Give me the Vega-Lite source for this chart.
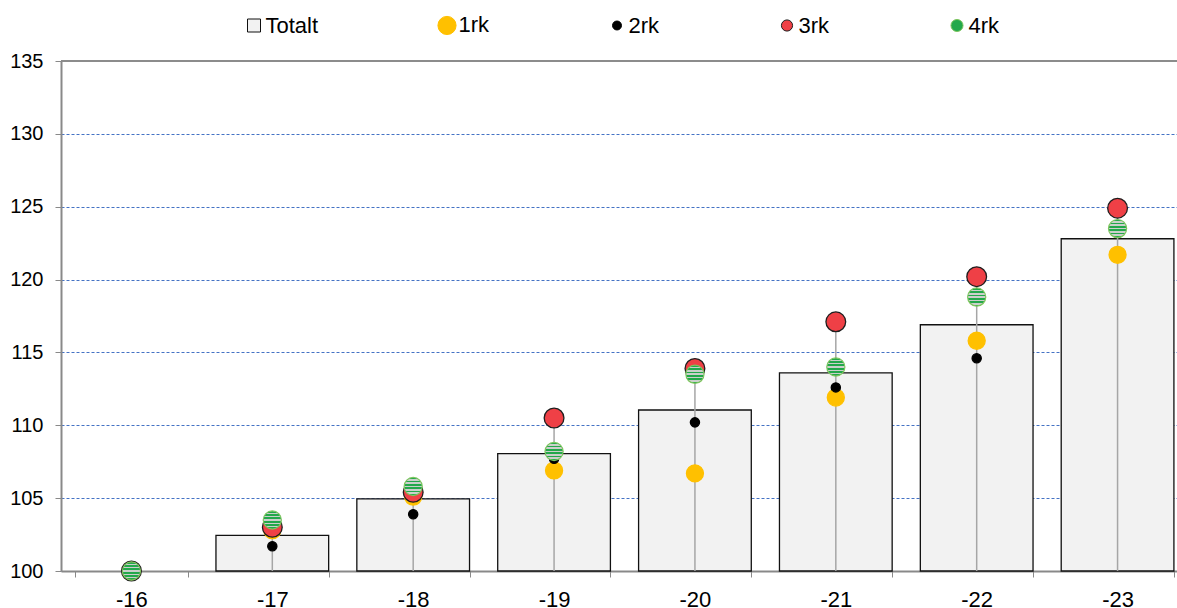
{
  "$schema": "https://vega.github.io/schema/vega-lite/v6.json",
  "autosize": {"type": "none"},
  "padding": {"left": 61, "top": 61, "right": 0, "bottom": 37},
  "width": 1116,
  "height": 510,
  "background": "#ffffff",
  "config": {
    "view": {"stroke": null},
    "font": "Liberation Sans",
    "axis": {"labelFont": "Liberation Sans", "labelColor": "#000000", "title": null}
  },
  "datasets": {
    "indeks": [
      {"aar": "-16", "serie": "Totalt", "verdi": 100},
      {"aar": "-17", "serie": "Totalt", "verdi": 102.45},
      {"aar": "-18", "serie": "Totalt", "verdi": 104.95},
      {"aar": "-19", "serie": "Totalt", "verdi": 108.05},
      {"aar": "-20", "serie": "Totalt", "verdi": 111.05},
      {"aar": "-21", "serie": "Totalt", "verdi": 113.6},
      {"aar": "-22", "serie": "Totalt", "verdi": 116.9},
      {"aar": "-23", "serie": "Totalt", "verdi": 122.8},
      {"aar": "-16", "serie": "1rk", "verdi": 100},
      {"aar": "-17", "serie": "1rk", "verdi": 102.8},
      {"aar": "-18", "serie": "1rk", "verdi": 105.1},
      {"aar": "-19", "serie": "1rk", "verdi": 106.9},
      {"aar": "-20", "serie": "1rk", "verdi": 106.7},
      {"aar": "-21", "serie": "1rk", "verdi": 111.9},
      {"aar": "-22", "serie": "1rk", "verdi": 115.8},
      {"aar": "-23", "serie": "1rk", "verdi": 121.7},
      {"aar": "-16", "serie": "2rk", "verdi": 100},
      {"aar": "-17", "serie": "2rk", "verdi": 101.7},
      {"aar": "-18", "serie": "2rk", "verdi": 103.9},
      {"aar": "-19", "serie": "2rk", "verdi": 107.7},
      {"aar": "-20", "serie": "2rk", "verdi": 110.2},
      {"aar": "-21", "serie": "2rk", "verdi": 112.6},
      {"aar": "-22", "serie": "2rk", "verdi": 114.6},
      {"aar": "-23", "serie": "2rk", "verdi": 123.4},
      {"aar": "-16", "serie": "3rk", "verdi": 100},
      {"aar": "-17", "serie": "3rk", "verdi": 103.0},
      {"aar": "-18", "serie": "3rk", "verdi": 105.4},
      {"aar": "-19", "serie": "3rk", "verdi": 110.5},
      {"aar": "-20", "serie": "3rk", "verdi": 113.9},
      {"aar": "-21", "serie": "3rk", "verdi": 117.1},
      {"aar": "-22", "serie": "3rk", "verdi": 120.2},
      {"aar": "-23", "serie": "3rk", "verdi": 124.9},
      {"aar": "-16", "serie": "4rk", "verdi": 100},
      {"aar": "-17", "serie": "4rk", "verdi": 103.5},
      {"aar": "-18", "serie": "4rk", "verdi": 105.8},
      {"aar": "-19", "serie": "4rk", "verdi": 108.2},
      {"aar": "-20", "serie": "4rk", "verdi": 113.5},
      {"aar": "-21", "serie": "4rk", "verdi": 114.0},
      {"aar": "-22", "serie": "4rk", "verdi": 118.8},
      {"aar": "-23", "serie": "4rk", "verdi": 123.5}
    ]
  },
  "data": {"name": "indeks"},
  "layer": [
    {
      "transform": [{"filter": "datum.serie === 'Totalt'"}],
      "mark": {"type": "bar", "stroke": "#111111", "strokeWidth": 1.3},
      "encoding": {
        "x": {
          "field": "aar",
          "type": "ordinal",
          "sort": ["-16", "-17", "-18", "-19", "-20", "-21", "-22", "-23"],
          "scale": {"range": [0, 1127], "paddingInner": 0.2, "paddingOuter": 0.1},
          "axis": {
            "labelAngle": 0,
            "labelFontSize": 22,
            "domainColor": "#898989",
            "domainWidth": 2,
            "tickColor": "#898989",
            "tickWidth": 1,
            "tickSize": 6,
            "tickBand": "extent",
            "labelPadding": 12
          }
        },
        "y": {
          "field": "verdi",
          "type": "quantitative",
          "scale": {"domain": [100, 135], "zero": false, "nice": false},
          "axis": {
            "values": [100, 105, 110, 115, 120, 125, 130, 135],
            "labelFontSize": 20,
            "domainColor": "#898989",
            "domainWidth": 2,
            "tickColor": "#898989",
            "tickWidth": 1,
            "tickSize": 6,
            "labelPadding": 12,
            "grid": true,
            "gridColor": "#4472C4",
            "gridDash": [3, 2],
            "gridWidth": 1
          }
        },
        "y2": {"datum": 100},
        "strokeOpacity": {"condition": {"test": "datum.verdi <= 100", "value": 0}, "value": 1},
        "color": {
          "field": "serie",
          "type": "nominal",
          "scale": {
            "domain": ["Totalt", "1rk", "2rk", "3rk", "4rk"],
            "range": ["#F2F2F2", "#FFC000", "#000000", "#EF4046", "#23A84B"]
          }
        }
      }
    },
    {
      "transform": [{"filter": "datum.serie !== 'Totalt'"}],
      "mark": {"type": "rule", "color": "#A6A6A6", "strokeWidth": 1.5},
      "encoding": {
        "x": {"field": "aar", "type": "ordinal", "sort": ["-16", "-17", "-18", "-19", "-20", "-21", "-22", "-23"]},
        "y": {"aggregate": "max", "field": "verdi", "type": "quantitative"},
        "y2": {"datum": 100}
      }
    },
    {
      "data": {"values": [{"ramme": "topp"}]},
      "mark": {"type": "rule", "color": "#8C8C8C", "strokeWidth": 2},
      "encoding": {"y": {"datum": 135}}
    },
    {
      "transform": [{"filter": "datum.serie !== 'Totalt' && datum.serie !== '4rk'"}],
      "mark": {"type": "point", "shape": "circle", "filled": true, "opacity": 1, "strokeWidth": 1.3},
      "encoding": {
        "x": {"field": "aar", "type": "ordinal", "sort": ["-16", "-17", "-18", "-19", "-20", "-21", "-22", "-23"]},
        "y": {"field": "verdi", "type": "quantitative"},
        "color": {"field": "serie", "type": "nominal"},
        "stroke": {"field": "serie", "type": "nominal"},
        "size": {
          "condition": [
            {"test": "datum.serie === '1rk'", "value": 290},
            {"test": "datum.serie === '2rk'", "value": 85}
          ],
          "value": 390
        }
      }
    },
    {
      "transform": [{"filter": "datum.serie === '4rk'"}],
      "mark": {
        "type": "point",
        "shape": "circle",
        "filled": true,
        "opacity": 1,
        "size": 330,
        "stroke": "#7DC55E",
        "strokeWidth": 1.2,
        "fill": {
          "gradient": "linear",
          "x1": 0, "y1": 0, "x2": 0, "y2": 1,
          "stops": [
            {"offset": 0, "color": "#23A84B"},
            {"offset": 0.09, "color": "#23A84B"},
            {"offset": 0.09, "color": "#CBCFCB"},
            {"offset": 0.18, "color": "#CBCFCB"},
            {"offset": 0.18, "color": "#23A84B"},
            {"offset": 0.27, "color": "#23A84B"},
            {"offset": 0.27, "color": "#CBCFCB"},
            {"offset": 0.36, "color": "#CBCFCB"},
            {"offset": 0.36, "color": "#23A84B"},
            {"offset": 0.45, "color": "#23A84B"},
            {"offset": 0.45, "color": "#CBCFCB"},
            {"offset": 0.55, "color": "#CBCFCB"},
            {"offset": 0.55, "color": "#23A84B"},
            {"offset": 0.64, "color": "#23A84B"},
            {"offset": 0.64, "color": "#CBCFCB"},
            {"offset": 0.73, "color": "#CBCFCB"},
            {"offset": 0.73, "color": "#23A84B"},
            {"offset": 0.82, "color": "#23A84B"},
            {"offset": 0.82, "color": "#CBCFCB"},
            {"offset": 0.91, "color": "#CBCFCB"},
            {"offset": 0.91, "color": "#23A84B"},
            {"offset": 1, "color": "#23A84B"}
          ]
        }
      },
      "encoding": {
        "x": {"field": "aar", "type": "ordinal", "sort": ["-16", "-17", "-18", "-19", "-20", "-21", "-22", "-23"]},
        "y": {"field": "verdi", "type": "quantitative"}
      }
    },
    {
      "description": "Legend layer: carries the shared series scales, draws no marks",
      "transform": [{"filter": "false"}],
      "mark": {"type": "point", "filled": true, "opacity": 1},
      "encoding": {
        "x": {"field": "aar", "type": "ordinal", "sort": ["-16", "-17", "-18", "-19", "-20", "-21", "-22", "-23"]},
        "y": {"field": "verdi", "type": "quantitative"},
        "color": {
          "field": "serie",
          "type": "nominal",
          "legend": {
            "orient": "none",
            "direction": "horizontal",
            "legendX": 182,
            "legendY": -47,
            "title": null,
            "padding": 0,
            "labelFont": "Liberation Sans",
            "labelFontSize": 22,
            "labelColor": "#000000",
            "labelOffset": 0.5,
            "columnPadding": 116,
            "symbolOpacity": 1,
            "symbolStrokeWidth": 1
          }
        },
        "size": {
          "field": "serie",
          "type": "nominal",
          "scale": {
            "type": "ordinal",
            "domain": ["Totalt", "1rk", "2rk", "3rk", "4rk"],
            "range": [169, 330, 80, 125, 145]
          }
        },
        "shape": {
          "field": "serie",
          "type": "nominal",
          "scale": {
            "domain": ["Totalt", "1rk", "2rk", "3rk", "4rk"],
            "range": ["square", "circle", "circle", "circle", "circle"]
          }
        },
        "stroke": {
          "field": "serie",
          "type": "nominal",
          "scale": {
            "domain": ["Totalt", "1rk", "2rk", "3rk", "4rk"],
            "range": ["#111111", "#FFC000", "#000000", "#1E1E1E", "#7DC55E"]
          }
        }
      }
    }
  ]
}
